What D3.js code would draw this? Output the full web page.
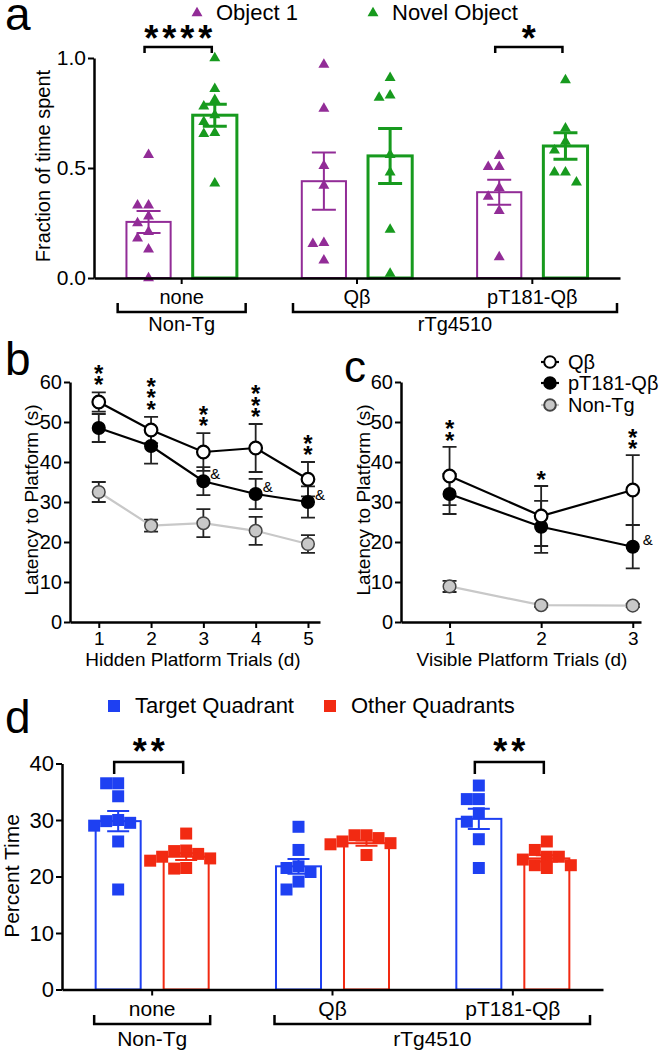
<!DOCTYPE html>
<html>
<head>
<meta charset="utf-8">
<script src="https://cdn.jsdelivr.net/npm/d3@7"></script>
<style>
  body { margin: 0; background: #fff; }
  svg { display: block; }
</style>
</head>
<body>
<svg id="fig" width="660" height="1053"></svg>
<script>
// ---------- data ----------
var groups = ["none", "Qβ", "pT181-Qβ"];

// a: novel object recognition (fraction of time spent)
var objSeries = ["Object 1", "Novel Object"];
var object1Pts = [
  [0.56, 0.33, 0.33, 0.28, 0.25, 0.21, 0.18, 0.13, 0.0],
  [0.97, 0.77, 0.51, 0.42, 0.16, 0.155, 0.08],
  [0.555, 0.505, 0.505, 0.41, 0.37, 0.305, 0.095]
];
var object1Mean = [0.255, 0.44, 0.39];
var object1Sem = [0.05, 0.13, 0.057];
var novelPts = [
  [1.0, 0.86, 0.81, 0.78, 0.74, 0.71, 0.66, 0.655, 0.43],
  [0.91, 0.83, 0.82, 0.56, 0.48, 0.22, 0.02],
  [0.90, 0.68, 0.62, 0.58, 0.48, 0.48, 0.435]
];
var novelMean = [0.74, 0.555, 0.60];
var novelSem = [0.05, 0.125, 0.06];
var objSig = [{group: 0, label: "****"}, {group: 2, label: "*"}];
var objTicks = [0, 0.5, 1.0];

// b: hidden platform trials
var hiddenDays = [1, 2, 3, 4, 5];
var hiddenQb = [55, 48, 42.5, 43.5, 35.7];
var hiddenQbSem = [2.4, 3.3, 4.7, 6, 4.3];
var hiddenPT = [48.5, 44, 35.2, 32, 30];
var hiddenPTSem = [3.5, 4.4, 3.5, 3.8, 3.9];
var hiddenNonTg = [32.5, 24.1, 24.7, 22.8, 19.5];
var hiddenNonTgSem = [2.5, 1.5, 3.5, 3.5, 2.2];
var hiddenStars = ["**", "***", "**", "***", "**"];
var hiddenAmp = [false, false, true, true, true];

// c: visible platform trials
var visibleDays = [1, 2, 3];
var visibleQb = [36.5, 26.5, 33];
var visibleQbSem = [7.3, 7.5, 8.7];
var visiblePT = [32, 23.8, 18.8];
var visiblePTSem = [5, 6.5, 5.4];
var visibleNonTg = [8.9, 4.2, 4.1];
var visibleNonTgSem = [1.4, 0.4, 0.4];
var visibleStars = ["**", "*", "**"];
var visibleAmp = [false, false, true];
var latencyTicks = [0, 10, 20, 30, 40, 50, 60];

// d: probe trial (percent time)
var quadSeries = ["Target Quadrant", "Other Quadrants"];
var targetPts = [
  [36.5, 36.5, 34.2, 30, 29.8, 29.5, 29, 26.2, 17.7],
  [28.8, 24.7, 21.8, 21.5, 20.8, 19.1, 17.7],
  [36.1, 33.7, 33.7, 31.2, 29.7, 26.6, 21.5]
];
var targetMean = [29.8, 21.8, 30.2];
var targetSem = [1.8, 1.3, 1.8];
var otherPts = [
  [27.6, 24.6, 24.5, 24, 23.5, 23.2, 22.8, 21.5, 21.4],
  [27.3, 27.3, 26.8, 26.2, 25.9, 25.7, 23.8],
  [26.2, 24.7, 23.5, 23.5, 23, 22, 22, 21.5]
];
var otherMean = [23.5, 25.9, 23.2];
var otherSem = [0.6, 0.45, 0.55];
var quadSig = [{group: 0, label: "**"}, {group: 2, label: "**"}];
var quadTicks = [0, 10, 20, 30, 40];

// ---------- drawing ----------
var FONT = "'Liberation Sans', Arial, Helvetica, sans-serif";
var purple = "#922c97", green = "#179a1e", blue = "#1e40f2", red = "#f22a12";
var grey = "#c8c8c8";

var svg = d3.select("#fig").attr("font-family", FONT);

function styleAxis(g, fs) {
  g.attr("font-family", FONT).attr("font-size", fs);
  g.select(".domain").attr("stroke", "#000").attr("stroke-width", 2.5);
  g.selectAll(".tick line").attr("stroke", "#000").attr("stroke-width", 2);
  g.selectAll(".tick text").attr("fill", "#000");
}

function label(x, y, txt, fs, anchor, extra) {
  var t = svg.append("text").attr("x", x).attr("y", y).text(txt)
    .attr("font-size", fs).attr("text-anchor", anchor || "start").attr("fill", "#000");
  if (extra) t.attr("font-weight", extra);
  return t;
}

function yTitle(x, y, txt, fs) {
  svg.append("text").attr("transform", "translate(" + x + "," + y + ") rotate(-90)")
    .attr("text-anchor", "middle").attr("font-size", fs).text(txt);
}

// simple beeswarm so points do not sit on top of each other
function dodge(vals, y, s) {
  var placed = [], offs = [];
  var order = vals.map(function(v, i) { return i; })
    .sort(function(a, b) { return vals[b] - vals[a]; });
  order.forEach(function(i) {
    var py = y(vals[i]);
    for (var k = 0; k < 40; k++) {
      var c = (k % 2 ? -1 : 1) * Math.ceil(k / 2) * s * 0.5;
      var ok = placed.every(function(p) {
        return Math.abs(p.y - py) >= s * 0.9 || Math.abs(p.x - c) >= s;
      });
      if (ok) { offs[i] = c; placed.push({x: c, y: py}); break; }
    }
  });
  return offs;
}

function bracket(x1, x2, yb, leg, lbl, fs, yl) {
  svg.append("path")
    .attr("d", "M" + x1 + "," + (yb + leg) + "V" + yb + "H" + x2 + "V" + (yb + leg))
    .attr("fill", "none").attr("stroke", "#000").attr("stroke-width", 2.5);
  if (lbl) label((x1 + x2) / 2, yl, lbl, fs, "middle");
}

function barPanel(o) {
  var x0 = d3.scaleBand().domain(groups).range(o.xRange);
  var x1 = d3.scaleBand().domain(o.names).range([0, x0.bandwidth()])
    .paddingInner(o.padIn).paddingOuter(o.padOut);
  var y = d3.scaleLinear().domain(o.yDomain).range(o.yRange);
  var bw = x1.bandwidth();
  var cxOf = function(gi, si) { return x0(groups[gi]) + x1(o.names[si]) + bw / 2; };
  var g = svg.append("g");

  o.series.forEach(function(s, si) {
    groups.forEach(function(gr, gi) {
      var cx = cxOf(gi, si);
      g.append("rect")
        .attr("x", cx - bw / 2).attr("y", y(s.mean[gi]))
        .attr("width", bw).attr("height", y(0) - y(s.mean[gi]))
        .attr("fill", "none").attr("stroke", s.color).attr("stroke-width", s.sw);
      var offs = dodge(s.pts[gi], y, o.msize);
      g.selectAll(null).data(s.pts[gi]).enter().append("path")
        .attr("d", d3.symbol(o.symbol, o.marea))
        .attr("transform", function(d, i) { return "translate(" + (cx + offs[i]) + "," + y(d) + ")"; })
        .attr("fill", s.color);
      var lo = y(s.mean[gi] - s.sem[gi]), hi = y(s.mean[gi] + s.sem[gi]);
      g.append("path")
        .attr("d", "M" + cx + "," + lo + "V" + hi +
          "M" + (cx - o.cap) + "," + hi + "H" + (cx + o.cap) +
          "M" + (cx - o.cap) + "," + lo + "H" + (cx + o.cap))
        .attr("fill", "none").attr("stroke", s.color).attr("stroke-width", s.sw);
    });
  });

  var ax = svg.append("g").attr("transform", "translate(0," + y(0) + ")")
    .call(d3.axisBottom(x0).tickSize(6).tickSizeOuter(0).tickPadding(o.xPad));
  styleAxis(ax, o.fs);
  var ay = svg.append("g").attr("transform", "translate(" + o.xRange[0] + ",0)")
    .call(d3.axisLeft(y).tickValues(o.ticks).tickFormat(o.fmt).tickSize(6).tickSizeOuter(0).tickPadding(2));
  styleAxis(ay, o.tickFs);

  o.sig.forEach(function(sg) {
    var a = cxOf(sg.group, 0) - 4, b = cxOf(sg.group, 1) - 3;
    bracket(a, b, o.sigY, o.sigLeg);
    label((a + b) / 2 + 2, o.sigY + o.starDy, sg.label, o.starFs, "middle", "bold")
      .attr("letter-spacing", 4);
  });

  // genotype brackets
  var c0 = x0(groups[0]) + x0.bandwidth() / 2;
  var c1 = x0(groups[1]) + x0.bandwidth() / 2;
  bracket(c0 - o.gHalf, c0 + o.gHalf, o.gY, -9, "Non-Tg", o.fs, o.gLabY);
  bracket(c1 - o.gHalf, o.xRange[1] - o.gEnd, o.gY, -9, "rTg4510", o.fs, o.gLabY);
  return {x0: x0, y: y};
}

// ---- panel a ----
barPanel({
  xRange: [94, 620], yDomain: [0, 1], yRange: [278, 58],
  names: objSeries, padIn: 0.333, padOut: 0.49,
  series: [
    {color: purple, sw: 2, pts: object1Pts, mean: object1Mean, sem: object1Sem},
    {color: green, sw: 3, pts: novelPts, mean: novelMean, sem: novelSem}
  ],
  symbol: d3.symbolTriangle, marea: 52, msize: 11, cap: 12,
  ticks: objTicks, fmt: d3.format(".1f"), fs: 20, tickFs: 21, xPad: 6,
  sig: objSig, sigY: 47, sigLeg: 6, starFs: 36, starDy: 4,
  gHalf: 64, gEnd: 3, gY: 312, gLabY: 331
});
label(5, 30, "a", 46);
yTitle(50, 166, "Fraction of time spent", 20);
// legend a
[{n: objSeries[0], c: purple, x: 197}, {n: objSeries[1], c: green, x: 373}].forEach(function(l) {
  svg.append("path").attr("d", d3.symbol(d3.symbolTriangle, 52))
    .attr("transform", "translate(" + l.x + ",13)").attr("fill", l.c);
  label(l.x + 19, 20, l.n, 22);
});

// ---- panel d ----
barPanel({
  xRange: [62, 603], yDomain: [0, 40], yRange: [989.5, 763.5],
  names: quadSeries, padIn: 0.338, padOut: 0.495,
  series: [
    {color: blue, sw: 2, pts: targetPts, mean: targetMean, sem: targetSem},
    {color: red, sw: 2, pts: otherPts, mean: otherMean, sem: otherSem}
  ],
  symbol: d3.symbolSquare, marea: 144, msize: 12, cap: 11,
  ticks: quadTicks, fmt: d3.format("d"), fs: 21, tickFs: 22, xPad: 6,
  sig: quadSig, sigY: 762, sigLeg: 12, starFs: 36, starDy: 2,
  gHalf: 58, gEnd: 13, gY: 1024, gLabY: 1046
});
label(5, 733, "d", 46);
yTitle(19, 876, "Percent Time", 21);
[{n: quadSeries[0], c: blue, x: 114}, {n: quadSeries[1], c: red, x: 330}].forEach(function(l) {
  svg.append("rect").attr("x", l.x - 6).attr("y", 700).attr("width", 12).attr("height", 12).attr("fill", l.c);
  label(l.x + 21, 713, l.n, 22);
});

// ---- line panels ----
function linePanel(o) {
  var x = d3.scaleLinear().domain(o.xDomain).range(o.xRange);
  var y = d3.scaleLinear().domain([0, 60]).range([622, 382]);
  var g = svg.append("g");
  var series = [
    {v: o.nonTg, e: o.nonTgSem, fill: grey, line: grey, stroke: "#444", sw: 1.5},
    {v: o.pt, e: o.ptSem, fill: "#000", line: "#000", stroke: "#000", sw: 1.5},
    {v: o.qb, e: o.qbSem, fill: "#fff", line: "#000", stroke: "#000", sw: 2.2}
  ];
  // error bars
  series.forEach(function(s) {
    g.selectAll(null).data(o.days).enter().append("path")
      .attr("d", function(d, i) {
        var cx = x(d), lo = y(s.v[i] - s.e[i]), hi = y(s.v[i] + s.e[i]);
        return "M" + cx + "," + lo + "V" + hi + "M" + (cx - 7) + "," + hi + "H" + (cx + 7) +
          "M" + (cx - 7) + "," + lo + "H" + (cx + 7);
      })
      .attr("fill", "none").attr("stroke", "#222").attr("stroke-width", 1.8);
  });
  series.forEach(function(s) {
    var line = d3.line().x(function(d) { return x(d); }).y(function(d, i) { return y(s.v[i]); });
    g.append("path").datum(o.days).attr("d", line)
      .attr("fill", "none").attr("stroke", s.line).attr("stroke-width", 2.2);
  });
  series.forEach(function(s) {
    g.selectAll(null).data(o.days).enter().append("circle")
      .attr("cx", function(d) { return x(d); })
      .attr("cy", function(d, i) { return y(s.v[i]); })
      .attr("r", 6.3).attr("fill", s.fill).attr("stroke", s.stroke).attr("stroke-width", s.sw);
  });
  // significance: stars stacked vertically above the Qβ error bar
  o.days.forEach(function(d, i) {
    var top = y(o.qb[i] + o.qbSem[i]);
    var n = o.stars[i].length;
    var t = svg.append("text").attr("font-size", 24).attr("font-weight", "bold")
      .attr("text-anchor", "middle");
    for (var k = 0; k < n; k++) {
      t.append("tspan").attr("x", x(d))
        .attr("y", top - o.starGap - (n - 1 - k) * 11.5 + 12).text("*");
    }
    if (o.amp[i]) label(x(d) + o.ampDx, y(o.pt[i]) - 2, "&", 15);
  });
  var ax = svg.append("g").attr("transform", "translate(0,622)")
    .call(d3.axisBottom(x).tickValues(o.days).tickFormat(d3.format("d")).tickSize(6).tickSizeOuter(0).tickPadding(4));
  styleAxis(ax, 19);
  var ay = svg.append("g").attr("transform", "translate(" + o.xRange[0] + ",0)")
    .call(d3.axisLeft(y).tickValues(latencyTicks).tickSize(6).tickSizeOuter(0).tickPadding(2));
  styleAxis(ay, 20);
  return x;
}

linePanel({
  xDomain: [0.45, 5.23], xRange: [70, 320], days: hiddenDays,
  qb: hiddenQb, qbSem: hiddenQbSem, pt: hiddenPT, ptSem: hiddenPTSem,
  nonTg: hiddenNonTg, nonTgSem: hiddenNonTgSem,
  stars: hiddenStars, amp: hiddenAmp, starGap: 11, ampDx: 7
});
label(5, 375, "b", 46);
yTitle(38, 500, "Latency to Platform (s)", 19);
label(193, 666, "Hidden Platform Trials (d)", 19, "middle");

linePanel({
  xDomain: [0.47, 3.09], xRange: [401, 641], days: visibleDays,
  qb: visibleQb, qbSem: visibleQbSem, pt: visiblePT, ptSem: visiblePTSem,
  nonTg: visibleNonTg, nonTgSem: visibleNonTgSem,
  stars: visibleStars, amp: visibleAmp, starGap: 10, ampDx: 10
});
label(344, 382, "c", 44);
yTitle(370, 500, "Latency to Platform (s)", 19);
label(522, 666, "Visible Platform Trials (d)", 19, "middle");

// legend c
[{n: "Qβ", fill: "#fff", line: "#000", stroke: "#000", y: 362},
 {n: "pT181-Qβ", fill: "#000", line: "#000", stroke: "#000", y: 383},
 {n: "Non-Tg", fill: grey, line: grey, stroke: "#444", y: 405}].forEach(function(l) {
  svg.append("line").attr("x1", 541).attr("x2", 559).attr("y1", l.y).attr("y2", l.y)
    .attr("stroke", l.line).attr("stroke-width", 2.2);
  svg.append("circle").attr("cx", 550).attr("cy", l.y).attr("r", 5.8)
    .attr("fill", l.fill).attr("stroke", l.stroke).attr("stroke-width", 2);
  label(568, l.y + 7, l.n, 20);
});
</script>
</body>
</html>
